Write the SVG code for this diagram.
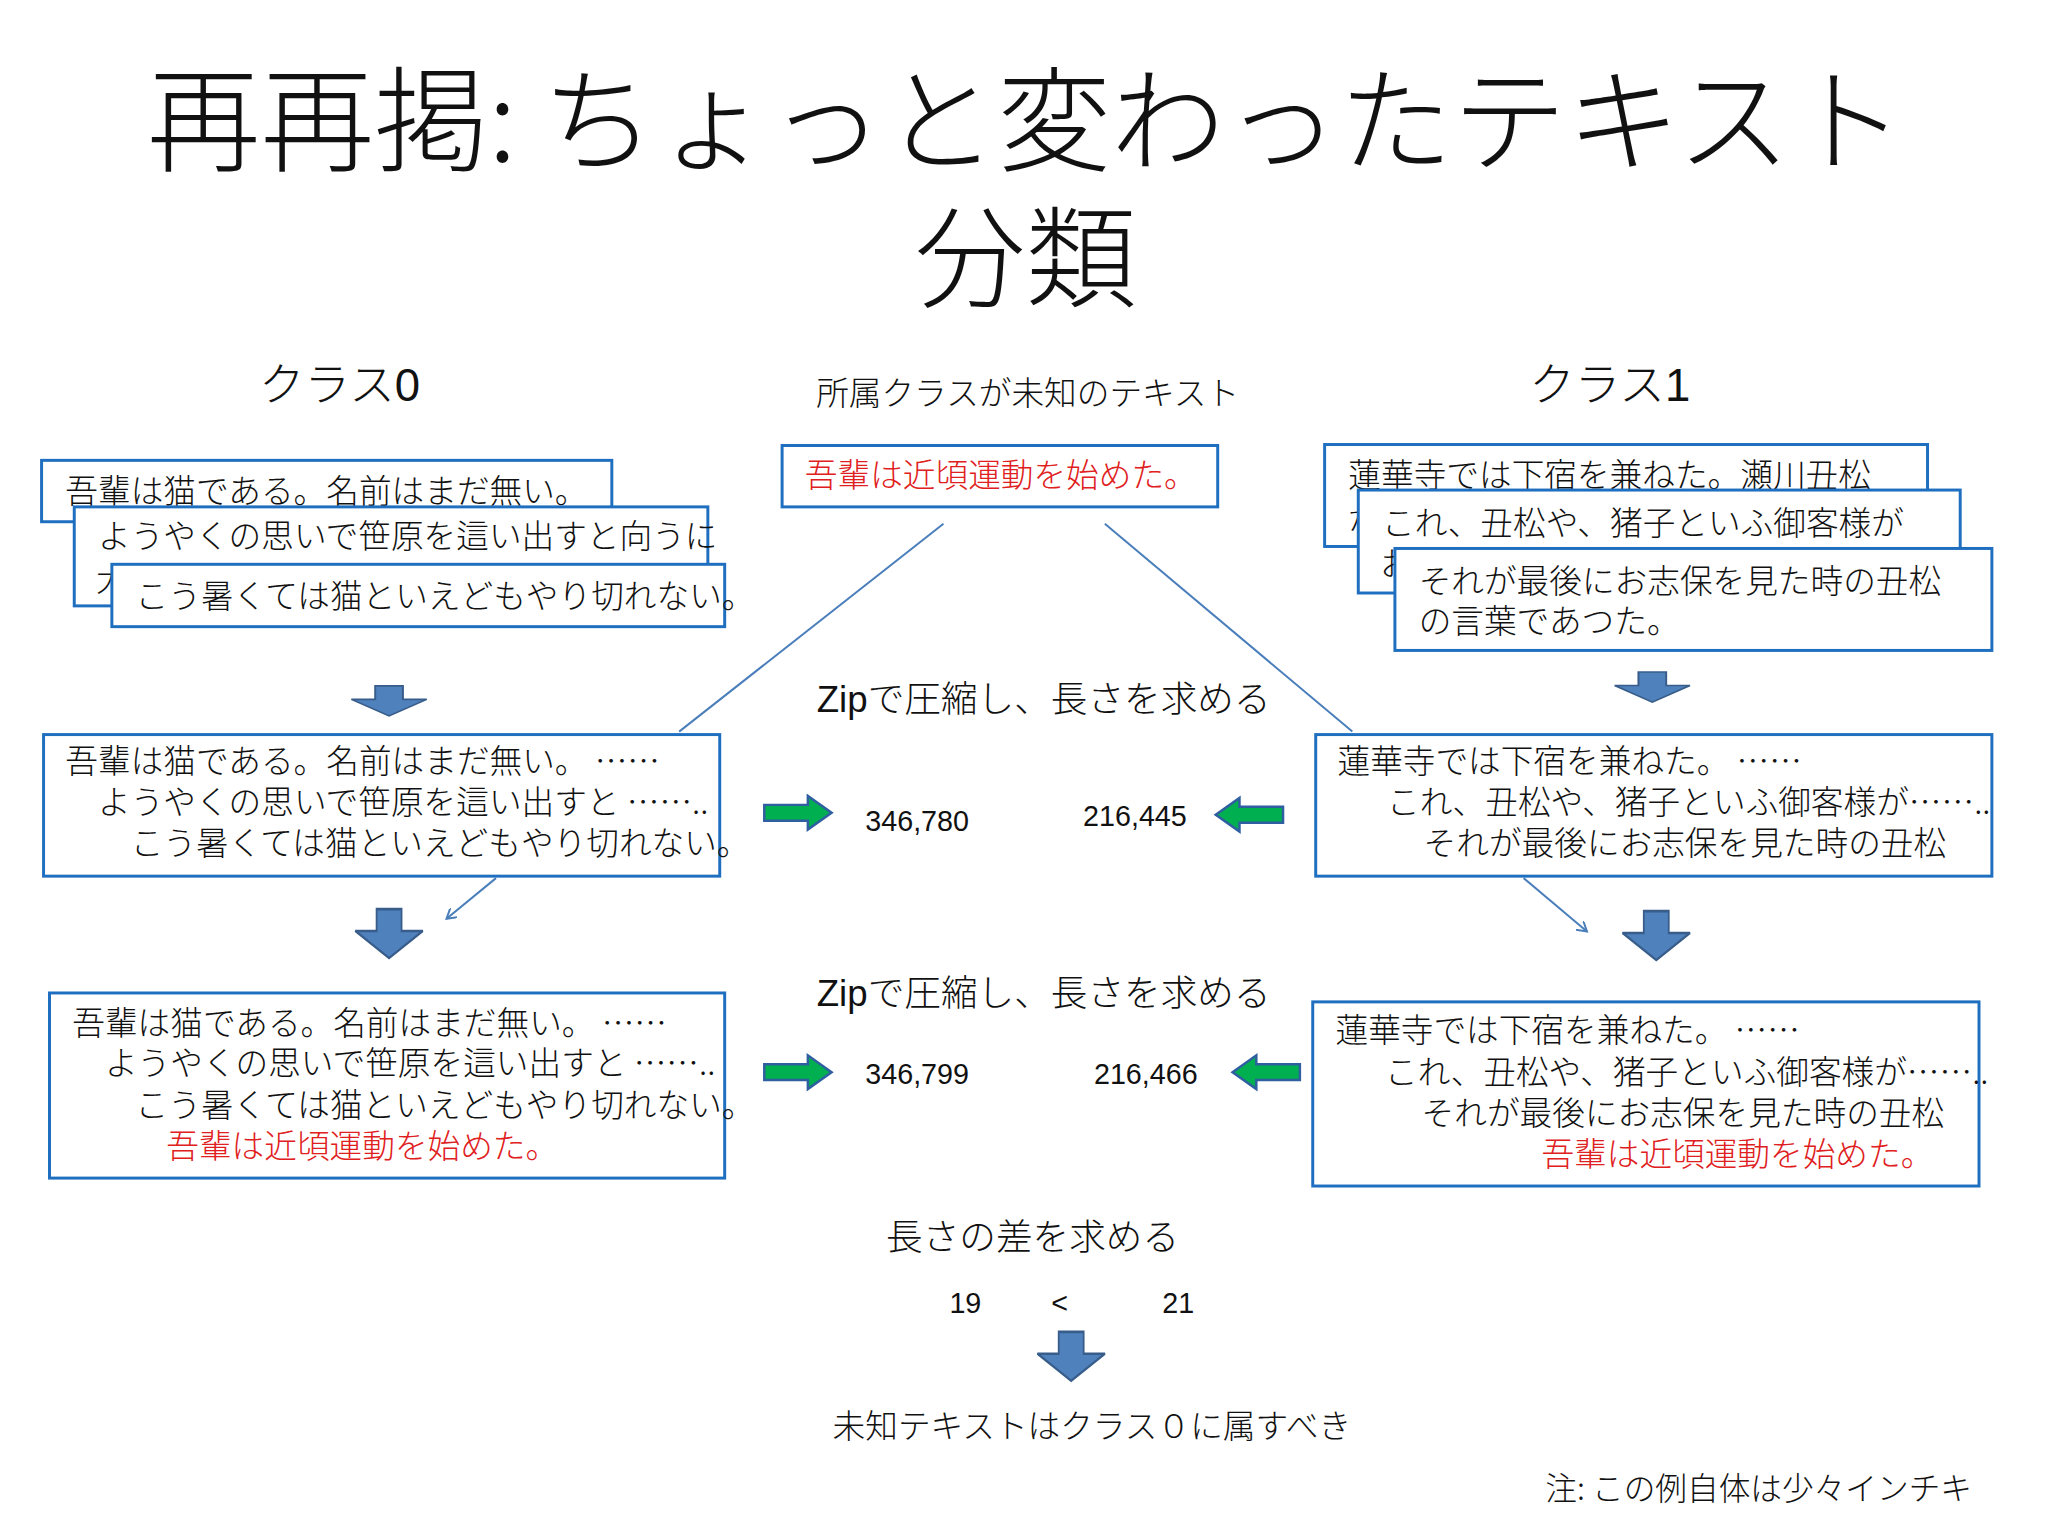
<svg xmlns="http://www.w3.org/2000/svg" width="2048" height="1536" viewBox="0 0 2048 1536">
<defs>
<style>
.t{font-family:"Noto Sans CJK JP","Liberation Sans",sans-serif;font-weight:300;fill:#111;font-size:33px}
.r{fill:#e02020}
.n{font-family:"Liberation Sans","Noto Sans",sans-serif;font-size:29px;fill:#111}
.box{fill:#fff;stroke:#1f6fc0;stroke-width:3}
.ln{stroke:#4a7ebb;stroke-width:2;fill:none}
.ba{fill:#4f81bd;stroke:#385d8a;stroke-width:2}
.ga{fill:#00b050;stroke:#2f5fa0;stroke-width:2.5}
</style>
<marker id="oa" markerWidth="12" markerHeight="12" refX="10" refY="6" orient="auto" markerUnits="userSpaceOnUse"><path d="M0,0 L10,6 L0,12" fill="none" stroke="#4a7ebb" stroke-width="2"/></marker>
<path id="dn" d="M-14,-19 H14 V-2 H38 L0,19 L-38,-2 H-14 Z"/>
<path id="rt" d="M-34,-8 H10 V-17 L34,0 L10,17 V8 H-34 Z"/>
</defs>
<rect width="2048" height="1536" fill="#fff"/>
<g transform="scale(0.99)">
<g id="title">
<text class="t" x="1036" y="164" text-anchor="middle" style="font-size:115px">再再掲: ちょっと変わったテキスト</text>
<text class="t" x="1036" y="302" text-anchor="middle" style="font-size:112px">分類</text>
</g>
<g id="headers">
<text class="t" x="343" y="405" text-anchor="middle" style="font-size:46px">クラス<tspan font-family="Liberation Sans" font-weight="400">0</tspan></text>
<text class="t" x="1626" y="405" text-anchor="middle" style="font-size:46px">クラス<tspan font-family="Liberation Sans" font-weight="400">1</tspan></text>
<text class="t" x="1038" y="409" text-anchor="middle" style="font-size:33px">所属クラスが未知のテキスト</text>
</g>
<g id="connectors">
<line class="ln" x1="953" y1="529" x2="686" y2="739"/>
<line class="ln" x1="1116" y1="529" x2="1366" y2="739"/>
<line class="ln" x1="501" y1="887" x2="451" y2="928" marker-end="url(#oa)"/>
<line class="ln" x1="1539" y1="887" x2="1603" y2="941" marker-end="url(#oa)"/>
<use href="#dn" class="ba" x="393" y="708" transform="translate(393 708) scale(1 0.8) translate(-393 -708)"/>
<use href="#dn" class="ba" x="1669" y="694" transform="translate(1669 694) scale(1 0.8) translate(-1669 -694)"/>
<use href="#dn" class="ba" x="393" y="943" transform="translate(393 943) scale(0.9 1.3) translate(-393 -943)"/>
<use href="#dn" class="ba" x="1673" y="945" transform="translate(1673 945) scale(0.9 1.3) translate(-1673 -945)"/>
<use href="#dn" class="ba" x="1082" y="1370" transform="translate(1082 1370) scale(0.9 1.3) translate(-1082 -1370)"/>
<use href="#rt" class="ga" x="806" y="821"/>
<use href="#rt" class="ga" x="1262" y="823" transform="rotate(180 1262 823)"/>
<use href="#rt" class="ga" x="806" y="1083"/>
<use href="#rt" class="ga" x="1279" y="1083" transform="rotate(180 1279 1083)"/>
</g>
<g id="unknown">
<rect class="box" x="790" y="450" width="440" height="62"/>
<text class="t r" x="813" y="492">吾輩は近頃運動を始めた。</text>
</g>
<g id="class0-docs">
<rect class="box" x="42" y="465" width="576" height="62"/>
<text class="t" x="66" y="508">吾輩は猫である。名前はまだ無い。</text>
<rect class="box" x="75" y="512" width="640" height="100"/>
<text class="t" x="99" y="554">ようやくの思いで笹原を這い出すと向うに</text>
<text class="t" x="97" y="597">大</text>
<rect class="box" x="113" y="570" width="619" height="63"/>
<text class="t" x="137" y="614">こう暑くては猫といえどもやり切れない。</text>
</g>
<g id="class1-docs">
<rect class="box" x="1338" y="449" width="609" height="103"/>
<text class="t" x="1362" y="492">蓮華寺では下宿を兼ねた。瀬川丑松</text>
<text class="t" x="1362" y="535">が</text>
<rect class="box" x="1372" y="495" width="608" height="104"/>
<text class="t" x="1396" y="540">これ、丑松や、猪子といふ御客様が</text>
<text class="t" x="1394" y="582">お</text>
<rect class="box" x="1409" y="554" width="603" height="103"/>
<text class="t" x="1433" y="599">それが最後にお志保を見た時の丑松</text>
<text class="t" x="1433" y="639">の言葉であつた。</text>
</g>
<g id="class0-concat">
<rect class="box" x="44" y="742" width="683" height="143"/>
<text class="t" x="66" y="781">吾輩は猫である。名前はまだ無い。 ……</text>
<text class="t" x="99" y="822">ようやくの思いで笹原を這い出すと ……..</text>
<text class="t" x="132" y="864">こう暑くては猫といえどもやり切れない。</text>
</g>
<g id="class1-concat">
<rect class="box" x="1329" y="742" width="683" height="143"/>
<text class="t" x="1351" y="781">蓮華寺では下宿を兼ねた。 ……</text>
<text class="t" x="1401" y="822">これ、丑松や、猪子といふ御客様が……..</text>
<text class="t" x="1438" y="864">それが最後にお志保を見た時の丑松</text>
</g>
<g id="class0-plus">
<rect class="box" x="50" y="1003" width="682" height="187"/>
<text class="t" x="73" y="1045">吾輩は猫である。名前はまだ無い。 ……</text>
<text class="t" x="106" y="1086">ようやくの思いで笹原を這い出すと ……..</text>
<text class="t" x="137" y="1128">こう暑くては猫といえどもやり切れない。</text>
<text class="t r" x="168" y="1170">吾輩は近頃運動を始めた。</text>
</g>
<g id="class1-plus">
<rect class="box" x="1326" y="1012" width="673" height="186"/>
<text class="t" x="1349" y="1053">蓮華寺では下宿を兼ねた。 ……</text>
<text class="t" x="1399" y="1095">これ、丑松や、猪子といふ御客様が……..</text>
<text class="t" x="1436" y="1136">それが最後にお志保を見た時の丑松</text>
<text class="t r" x="1557" y="1178">吾輩は近頃運動を始めた。</text>
</g>
<g id="center">
<text class="t" x="825" y="719" style="font-size:37px"><tspan font-family="Liberation Sans" font-weight="400">Zip</tspan>で圧縮し、長さを求める</text>
<text class="n" x="874" y="839">346,780</text>
<text class="n" x="1094" y="834">216,445</text>
<text class="t" x="825" y="1016" style="font-size:37px"><tspan font-family="Liberation Sans" font-weight="400">Zip</tspan>で圧縮し、長さを求める</text>
<text class="n" x="874" y="1095">346,799</text>
<text class="n" x="1105" y="1095">216,466</text>
<text class="t" x="895" y="1263" style="font-size:37px">長さの差を求める</text>
<text class="n" x="959" y="1326">19</text>
<text class="n" x="1062" y="1326">&lt;</text>
<text class="n" x="1174" y="1326">21</text>
<text class="t" x="841" y="1453">未知テキストはクラス０に属すべき</text>
<text class="t" x="1561" y="1515" style="font-size:32px">注: この例自体は少々インチキ</text>
</g>
</g>
</svg>
